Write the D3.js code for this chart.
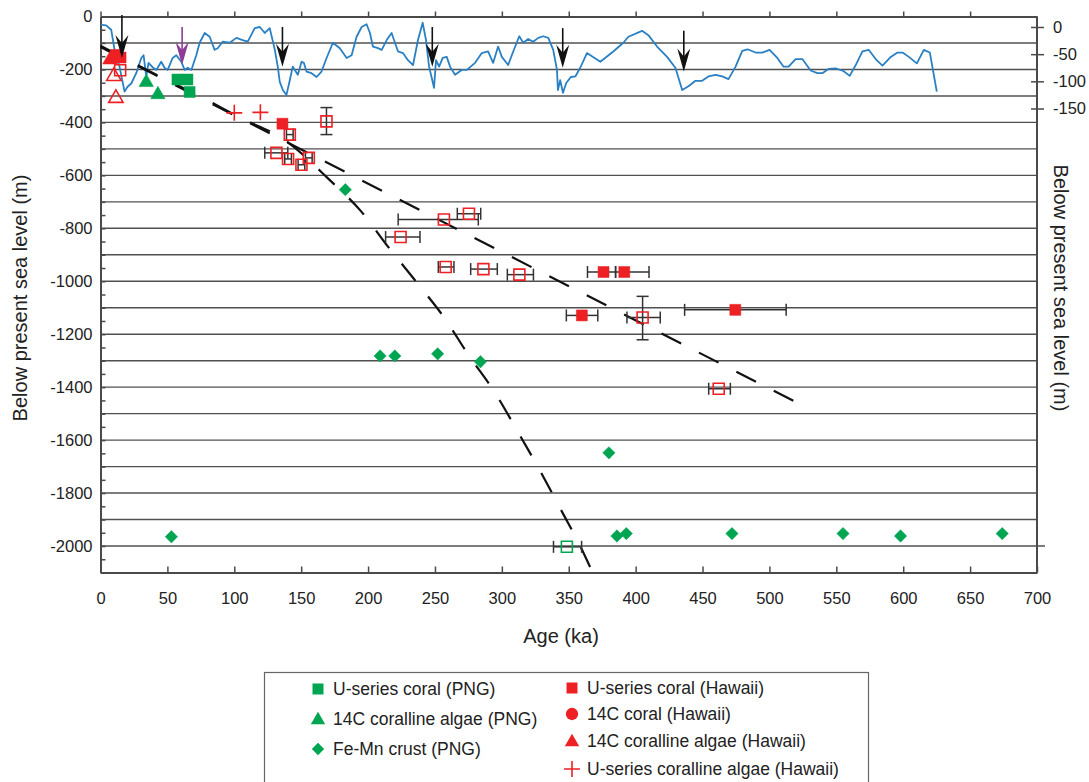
<!DOCTYPE html>
<html><head><meta charset="utf-8">
<script src="https://cdn.jsdelivr.net/npm/d3@7"></script>
<style>body{margin:0;background:#fff} text{font-family:"Liberation Sans",Arial,Helvetica,sans-serif;fill:#222}</style>
</head><body><svg id="c" width="1089" height="782"></svg>
<script>
// ---------- DATA ----------
const xTicks = [0,50,100,150,200,250,300,350,400,450,500,550,600,650,700];
const yTicksLeft = d3.range(0,-2101,-50);
const yLabelsLeft = [0,-200,-400,-600,-800,-1000,-1200,-1400,-1600,-1800,-2000];
const yTicksRight = [0,-50,-100,-150];
const gridDepths = d3.range(-100,-2001,-100);

// sea-level curve (age ka, sea level m) - right axis
const seaLevel = [[0.5,4],[4.3,3],[8,-5],[10.5,-42],[14.2,-73],[18,-119],[20.2,-110],[23,-104],[26.7,-85],[30.5,-57],[32.2,-52],[34.2,-91],[35.9,-66],[38.9,-74],[41.7,-79],[45.4,-64],[47.9,-75],[50.2,-79],[53.9,-57],[56.7,-52],[60.4,-64],[62.9,-79],[65.1,-75],[67.9,-79],[71.6,-52],[74.1,-29],[77.9,-11],[81.6,-18],[85.3,-42],[87.6,-39],[91.3,-27],[96.6,-29],[101.6,-20],[106.3,-24],[110.1,-27],[115.3,-2],[119.1,0],[122.8,-11],[126.5,-2],[130.3,-42],[132.5,-73],[134,-101],[136.3,-116],[139,-125],[141.5,-98],[143.7,-73],[147.5,-88],[150.3,-64],[152,-66],[154,-82],[157.7,-85],[161.5,-92],[165.2,-82],[169,-57],[173.7,-29],[178.9,-39],[184,-57],[187.7,-52],[191.4,-18],[195.2,0],[198.9,5],[201.4,-11],[203.6,-36],[207.4,-39],[210.2,-42],[213.9,-24],[217.6,-11],[220.1,-29],[222.4,-45],[226.1,-48],[229.8,-61],[233.6,-70],[237.3,-24],[240.8,8],[243.3,-24],[245.6,-73],[247.6,-94],[249.3,-112],[250.8,-61],[253.1,-73],[255.8,-57],[258.8,-55],[261.3,-73],[265,-88],[270,-79],[273.8,-79],[280,-66],[285,-48],[289.7,-45],[293.5,-66],[297.2,-36],[300,-55],[304.7,-70],[308.5,-45],[313,-17],[316,-29],[319.7,-22],[323.4,-27],[327.2,-20],[330.9,-17],[334.7,-20],[338.4,-42],[341.2,-79],[341.9,-116],[343.6,-98],[345.7,-121],[348.1,-103],[351.6,-92],[354.9,-91],[358.6,-75],[363.6,-48],[373.6,-64],[383.3,-45],[390.8,-29],[394.6,-18],[404.8,-7],[409.5,-15],[416,-36],[423.5,-55],[429.7,-75],[434.8,-116],[439.5,-109],[444.7,-99],[449.7,-99],[454.4,-91],[459.7,-88],[464.7,-91],[469.4,-96],[474.7,-73],[479.7,-44],[483.6,-41],[489.6,-47],[494.6,-47],[500.1,-42],[505.9,-57],[510.6,-73],[514.3,-73],[519.6,-59],[524.6,-59],[530.8,-80],[535.8,-85],[539.6,-85],[544.3,-77],[549.5,-76],[555.3,-81],[560,-90],[564.5,-70],[569.5,-45],[574.2,-42],[579.4,-59],[584.5,-71],[590.7,-55],[595.7,-47],[599.5,-47],[604.2,-55],[610.2,-67],[615.4,-42],[619.9,-47],[625.1,-119]];

// arrows (age, top sea level, tip sea level) - right axis units
const blackArrows = [[16,22,-57],[136,0,-73],[248,0,-73],[345.5,-2,-75],[436,-7,-82]];
const purpleArrows = [[61,0,-70]];

// dashed trend lines (age, depth)
const trendShallow = [[0,-115],[525,-1470]];
const trendSteep = [[0,-110],[46,-231],[76,-306],[106,-386],[136,-461],[171,-616],[195,-737],[215,-870],[236,-1002],[257,-1138],[275,-1278],[295,-1422],[312,-1569],[329,-1720],[345,-1871],[359,-2004],[367,-2091]];

// PNG (green)
const usCoralPNG = [[57.5,-238],[65,-238],[66.6,-285]];
const usCoralPNGOpen = [[348.6,-2003,338.6,359.6]];
const c14AlgaePNG = [[34.2,-245],[42.9,-291]];
const feMnPNG = [[53,-1965],[183,-654],[209,-1282],[220,-1282],[252,-1274],[284,-1304],[380,-1648],[386,-1962],[393,-1953],[472,-1953],[555,-1953],[598,-1962],[674,-1953]];

// Hawaii (red)  [age, depth, ageLo, ageHi, depthHi, depthLo]
const usCoralHawaii = [[11.5,-145],[15,-155],[136,-405],[376,-965,364,385],[391.5,-965,385,410],[359.8,-1129,348.2,371.7],[474.5,-1108,436.6,512.5]];
const usCoralHawaiiOpen = [[14.7,-203],[141.5,-446,139,144],[168.9,-396,null,null,-344,-446],[131.5,-515,122.8,140],[140.2,-538,137.7,142.7],[150.2,-560,147.7,152.7],[155.7,-534,153.2,158.2],[256.7,-767,222.5,282.4],[275.4,-745,266.7,284.2],[224.3,-833,213.1,238.8],[258,-946,252.5,264.2],[286.2,-954,276.7,296.6],[313.1,-975,304.1,323.6],[405.2,-1137,393.5,418.4,-1057,-1221],[462.1,-1406,454.6,470.8]];
const c14AlgaeHawaii = [[7,-160]];
const c14AlgaeHawaiiOpen = [[10,-222],[11.5,-305]];
const usAlgaeHawaii = [[100,-364],[119.5,-362]];

const legendPNG = [["square","U-series coral (PNG)"],["triangle","14C coralline algae (PNG)"],["diamond","Fe-Mn crust (PNG)"]];
const legendHawaii = [["square","U-series coral (Hawaii)"],["circle","14C coral (Hawaii)"],["triangle","14C coralline algae (Hawaii)"],["cross","U-series coralline algae (Hawaii)"]];

// ---------- CHART ----------
const GREEN = "#00a551", RED = "#ed2024", BLUE = "#2a80c4", AX = "#4a4a4a";
const svg = d3.select("#c");
const x = d3.scaleLinear().domain([0,700]).range([100.5,1037]);
const y = d3.scaleLinear().domain([0,-2100]).range([16.5,572.5]);
const yR = d3.scaleLinear().domain([0,-150]).range([27,108.5]);

// grid
svg.append("g").selectAll("line").data(gridDepths).join("line")
  .attr("x1", x(0)).attr("x2", d => d === -2000 ? x(700) + 8 : x(700))
  .attr("y1", d => y(d)).attr("y2", d => y(d))
  .attr("stroke", "#505050").attr("stroke-width", 1.4);

// axes
const fmt = d => String(d);
const gl = svg.append("g").attr("transform", `translate(${x(0)},0)`)
  .call(d3.axisLeft(y).tickValues(yTicksLeft).tickSizeInner(-5).tickSizeOuter(0).tickPadding(8)
    .tickFormat(d => yLabelsLeft.includes(d) ? fmt(d) : ""));
const gb = svg.append("g").attr("transform", `translate(0,${y(-2100)})`)
  .call(d3.axisBottom(x).tickValues(xTicks).tickSizeInner(-6).tickSizeOuter(0).tickPadding(20).tickFormat(fmt));
const gt = svg.append("g").attr("transform", `translate(0,${y(0)})`)
  .call(d3.axisTop(x).tickValues(xTicks.slice(0,-1)).tickSizeInner(5).tickSizeOuter(0).tickFormat(""));
const gr = svg.append("g").attr("transform", `translate(${x(700)},0)`)
  .call(d3.axisRight(yR).tickValues(yTicksRight).tickSizeInner(7).tickSizeOuter(0).tickPadding(9).tickFormat(fmt));
gr.select(".domain").remove();
gr.selectAll(".tick line").attr("x1", -6);
svg.append("line").attr("x1", x(700)).attr("x2", x(700)).attr("y1", y(0)).attr("y2", y(-2100))
  .attr("stroke", AX).attr("stroke-width", 2);
[gl, gb, gt, gr].forEach(g => {
  g.selectAll(".domain").attr("stroke", AX).attr("stroke-width", 2);
  g.selectAll(".tick line").attr("stroke", AX).attr("stroke-width", 1.5);
  g.selectAll(".tick text").style("font-size", "16.5px").attr("fill", "#222");
});

// axis titles
svg.append("text").attr("transform", "translate(27,298) rotate(-90)").attr("text-anchor","middle")
  .style("font-size","20px").text("Below present sea level (m)");
svg.append("text").attr("transform", "translate(1054,288) rotate(90)").attr("text-anchor","middle")
  .style("font-size","20px").text("Below present sea level (m)");
svg.append("text").attr("x", 561).attr("y", 643).attr("text-anchor","middle")
  .style("font-size","20px").text("Age (ka)");

// sea level curve
svg.append("path").datum(seaLevel)
  .attr("d", d3.line().x(d => x(d[0])).y(d => yR(d[1])))
  .attr("fill","none").attr("stroke",BLUE).attr("stroke-width",1.8).attr("stroke-linejoin","round");

// trend lines
svg.append("path").datum(trendShallow).attr("d", d3.line().x(d => x(d[0])).y(d => y(d[1])))
  .attr("fill","none").attr("stroke","#111").attr("stroke-width",2.2).attr("stroke-dasharray","22,20");
svg.append("path").datum(trendSteep).attr("d", d3.line().curve(d3.curveMonotoneX).x(d => x(d[0])).y(d => y(d[1])))
  .attr("fill","none").attr("stroke","#111").attr("stroke-width",2.2).attr("stroke-dasharray","22,20");

// error bars
const errG = svg.append("g").attr("stroke","#333").attr("stroke-width",1.5);
function errBars(data){
  data.forEach(d => {
    const cx = x(d[0]), cy = y(d[1]);
    if (d[2] != null) {
      const x1 = x(d[2]), x2 = x(d[3]);
      errG.append("line").attr("x1",x1).attr("x2",x2).attr("y1",cy).attr("y2",cy);
      errG.append("line").attr("x1",x1).attr("x2",x1).attr("y1",cy-6).attr("y2",cy+6);
      errG.append("line").attr("x1",x2).attr("x2",x2).attr("y1",cy-6).attr("y2",cy+6);
    }
    if (d[4] != null) {
      const y1 = y(d[4]), y2 = y(d[5]);
      errG.append("line").attr("x1",cx).attr("x2",cx).attr("y1",y1).attr("y2",y2);
      errG.append("line").attr("x1",cx-6).attr("x2",cx+6).attr("y1",y1).attr("y2",y1);
      errG.append("line").attr("x1",cx-6).attr("x2",cx+6).attr("y1",y2).attr("y2",y2);
    }
  });
}
errBars(usCoralHawaii); errBars(usCoralHawaiiOpen); errBars(usCoralPNGOpen);

// markers
const shapes = {
  square: d3.symbol(d3.symbolSquare, 121),
  triangle: d3.symbol(d3.symbolTriangle, 90),
  diamond: d3.symbol(d3.symbolSquare, 76),
  circle: d3.symbol(d3.symbolCircle, 120),
};
function marks(data, shape, color, open){
  const g = svg.append("g");
  if (shape === "cross") {
    data.forEach(d => {
      const cx = x(d[0]), cy = y(d[1]);
      g.append("path").attr("d", `M${cx-8},${cy}H${cx+8}M${cx},${cy-8}V${cy+8}`)
        .attr("stroke", color).attr("stroke-width", 1.6).attr("fill","none");
    });
    return;
  }
  g.selectAll("path").data(data).join("path")
    .attr("d", shapes[shape]())
    .attr("transform", d => `translate(${x(d[0])},${y(d[1])})${shape==="diamond"?" rotate(45)":""}${shape==="triangle"?" translate(0,1)":""}`)
    .attr("fill", open ? "#fff" : color)
    .attr("fill-opacity", open ? 0 : 1)
    .attr("stroke", color).attr("stroke-width", open ? 1.6 : 0.5);
}
marks(feMnPNG, "diamond", GREEN);
marks(usCoralPNG, "square", GREEN);
marks(usCoralPNGOpen, "square", GREEN, true);
marks(c14AlgaePNG, "triangle", GREEN);
marks(usCoralHawaiiOpen, "square", RED, true);
marks(c14AlgaeHawaiiOpen, "triangle", RED, true);
marks(usCoralHawaii, "square", RED);
marks(c14AlgaeHawaii, "triangle", RED);
marks(usAlgaeHawaii, "cross", RED);

// arrows
function arrows(data, color){
  data.forEach(d => {
    const ax = x(d[0]), y0 = yR(d[1]), yt = yR(d[2]);
    svg.append("line").attr("x1",ax).attr("x2",ax).attr("y1",y0).attr("y2",yt-14)
      .attr("stroke",color).attr("stroke-width",1.6);
    svg.append("path").attr("d", `M${ax},${yt}L${ax-6.5},${yt-23}L${ax},${yt-15}L${ax+6.5},${yt-23}Z`)
      .attr("fill",color);
  });
}
arrows(blackArrows, "#111");
arrows(purpleArrows, "#8e3c97");

// legend
svg.append("rect").attr("x",264.5).attr("y",672.5).attr("width",604).attr("height",130)
  .attr("fill","none").attr("stroke","#666").attr("stroke-width",1.2);
function legendItem(lx, ly, shape, color, label){
  const g = svg.append("g").attr("transform", `translate(${lx},${ly})`);
  if (shape === "cross") {
    g.append("path").attr("d","M-8,0H8M0,-8V8").attr("stroke",color).attr("stroke-width",1.6);
  } else {
    g.append("path").attr("d", shapes[shape]())
      .attr("transform", shape==="diamond" ? "rotate(45)" : (shape==="triangle" ? "translate(0,1)" : ""))
      .attr("fill", color);
  }
  g.append("text").attr("x", 15).attr("y", 6).style("font-size","17.5px").text(label);
}
const rowsPNG = [689, 719, 749], rowsHI = [688, 714, 741, 769];
legendPNG.forEach((d,i) => legendItem(318, rowsPNG[i], d[0], GREEN, d[1]));
legendHawaii.forEach((d,i) => legendItem(572, rowsHI[i], d[0], RED, d[1]));
</script></body></html>
